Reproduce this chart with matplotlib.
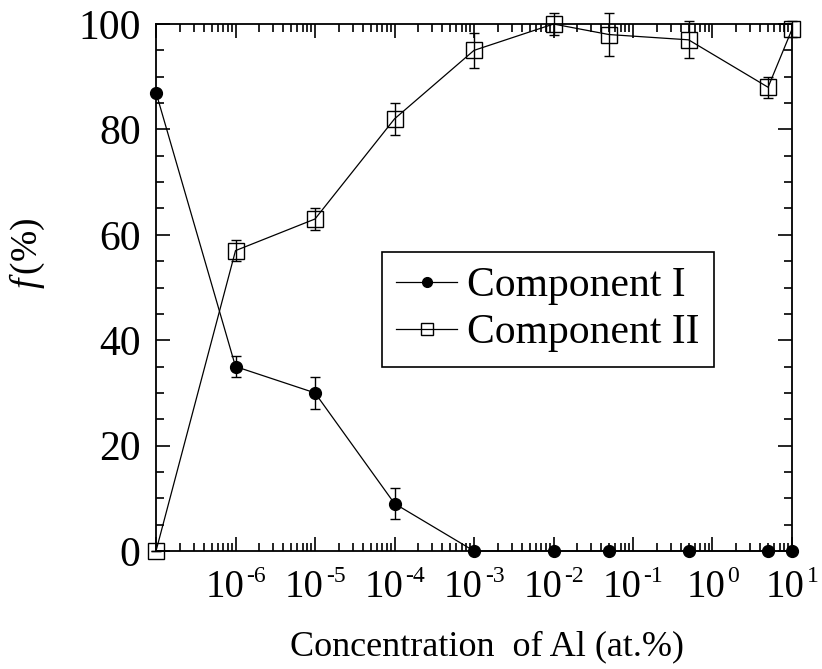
import numpy as np
import matplotlib
matplotlib.use("Agg")
import matplotlib.pyplot as plt
from matplotlib.lines import Line2D
from matplotlib.ticker import LogLocator, MultipleLocator, NullFormatter

plt.rcParams["font.family"] = ["Liberation Serif", "DejaVu Serif"]
plt.rcParams["mathtext.fontset"] = "custom"
plt.rcParams["mathtext.rm"] = "Liberation Serif"
plt.rcParams["mathtext.it"] = "Liberation Serif:italic"

# --- Fractions of the two components vs. Al concentration ---
conc = [1e-7, 1e-6, 1e-5, 1e-4, 1e-3, 1e-2, 5e-2, 0.5, 5.0, 10.0]
comp1 = [87, 35, 30, 9, 0, 0, 0, 0, 0, 0]
comp1_err = [0, 2, 3, 3, 0, 0, 0, 0, 0, 0]
comp2 = [0, 57, 63, 82, 95, 100, 98, 97, 88, 99]
comp2_err = [0, 2, 2, 3, 3.3, 2, 4, 3.5, 2, 1.5]
label_exps = [-6, -5, -4, -3, -2, -1, 0, 1]

DPI = 100
fig = plt.figure(figsize=(8.22, 6.69), dpi=DPI)
ax = fig.add_axes([0.1898, 0.1764, 0.7737, 0.7877])

ax.errorbar(conc, comp1, yerr=comp1_err, fmt="-o", color="black", lw=0.9,
            ms=8.5, mfc="black", mec="black", elinewidth=1.0, capsize=3.8,
            capthick=1.0, clip_on=False, zorder=3)
ax.errorbar(conc, comp2, yerr=comp2_err, fmt="-s", color="black", lw=0.9,
            ms=11, mfc="none", mec="black", mew=1.0, elinewidth=1.0,
            capsize=3.8, capthick=1.0, clip_on=False, zorder=3)

ax.set_xscale("log")
ax.set_xlim(1e-7, 1e1)
ax.set_ylim(0, 100)

ax.xaxis.set_major_locator(LogLocator(base=10, numticks=20))
ax.xaxis.set_minor_locator(LogLocator(base=10, subs=np.arange(2, 10), numticks=20))
ax.xaxis.set_major_formatter(NullFormatter())
ax.xaxis.set_minor_formatter(NullFormatter())
ax.yaxis.set_major_locator(MultipleLocator(20))
ax.yaxis.set_minor_locator(MultipleLocator(5))

ax.tick_params(which="both", direction="in", top=True, right=True, width=1.2)
ax.tick_params(which="major", length=10)
ax.tick_params(which="minor", length=6)
ax.tick_params(axis="y", which="major", labelsize=30, pad=11)
for sp in ax.spines.values():
    sp.set_linewidth(1.3)

# decade labels: "10" with a small raised exponent, centred under each tick
fig.canvas.draw()
renderer = fig.canvas.get_renderer()
px2pt = 72.0 / DPI
for e in label_exps:
    base = ax.annotate("10", xy=(10.0 ** e, 0), xycoords=("data", "axes fraction"),
                       xytext=(0, -33), textcoords="offset points",
                       ha="left", va="baseline", fontsize=28, annotation_clip=False)
    sup = ax.annotate(str(e), xy=(10.0 ** e, 0), xycoords=("data", "axes fraction"),
                      xytext=(0, -22.5), textcoords="offset points",
                      ha="left", va="baseline", fontsize=17, annotation_clip=False)
    wb = base.get_window_extent(renderer).width
    ws = sup.get_window_extent(renderer).width
    x0 = -(wb + ws + 2) / 2.0
    base.set_position((x0 * px2pt, -33))
    sup.set_position(((x0 + wb + 2) * px2pt, -22.5))

ax.set_xlabel("Concentration  of Al (at.%)", fontsize=26)
ax.xaxis.set_label_coords(0.52, -0.15)
ax.set_ylabel(r"$\mathit{f}\,$(%)", fontsize=27)
ax.yaxis.set_label_coords(-0.172, 0.565)

handles = [
    Line2D([], [], color="black", lw=0.9, marker="o", ms=7, mfc="black", mec="black"),
    Line2D([], [], color="black", lw=0.9, marker="s", ms=9, mfc="none", mec="black"),
]
leg = ax.legend(handles, ["Component I", "Component II"], loc="upper left",
                bbox_to_anchor=(0.355, 0.567), fontsize=30, frameon=True,
                fancybox=False, edgecolor="black", framealpha=1,
                handlelength=1.45, handletextpad=0.25, borderpad=0.35,
                labelspacing=0.2, borderaxespad=0)
leg.get_frame().set_linewidth(1.2)

fig.savefig("out.png", dpi=DPI)
